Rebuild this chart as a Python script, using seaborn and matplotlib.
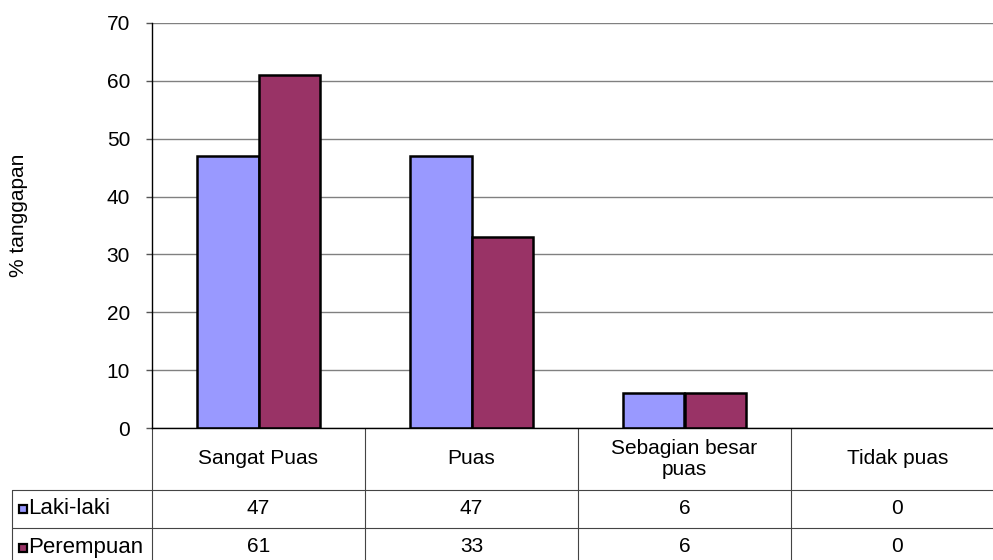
import numpy as np
import pandas as pd
import matplotlib
matplotlib.use("Agg")
import matplotlib.pyplot as plt
import seaborn as sns
from matplotlib.patches import Rectangle

categories = ["Sangat Puas", "Puas", "Sebagian besar\npuas", "Tidak puas"]
series_names = ["Laki-laki", "Perempuan"]
laki_laki = [47, 47, 6, 0]
perempuan = [61, 33, 6, 0]
y_ticks = [0, 10, 20, 30, 40, 50, 60, 70]
colors = ["#9999FF", "#993366"]

df = pd.DataFrame({
    "kategori": categories * 2,
    "nilai": laki_laki + perempuan,
    "jenis": [series_names[0]] * 4 + [series_names[1]] * 4,
})

sns.set_style("white")
plt.rcParams["font.family"] = ["Liberation Sans", "DejaVu Sans"]
plt.rcParams["text.color"] = "black"
plt.rcParams["ytick.color"] = "black"
plt.rcParams["ytick.labelcolor"] = "black"

FS = 15
W, H = 993, 560
fig = plt.figure(figsize=(W / 100, H / 100), dpi=100)

# plot area in pixels
left, right, top, bottom = 152, 1004, 23, 428
ax = fig.add_axes([left / W, 1 - bottom / H, (right - left) / W, (bottom - top) / H])

sns.barplot(data=df, x="kategori", y="nilai", hue="jenis", palette=colors,
            saturation=1, edgecolor="black", linewidth=1.8, width=0.573, gap=0,
            legend=False, ax=ax, order=categories, hue_order=series_names)

# zero-height bars are not drawn
for p in ax.patches:
    if p.get_height() == 0:
        p.set_visible(False)

ax.set_xlim(-0.5, 3.5)
ax.set_ylim(0, 70)
ax.set_yticks(y_ticks)
ax.set_yticklabels([str(v) for v in y_ticks], fontsize=FS)
ax.tick_params(axis="y", length=4.3, width=1, color="#555555", pad=11.5, left=True, direction="out")
ax.set_xticks([])
ax.set_xlabel("")
ax.set_ylabel("")
ax.yaxis.grid(True, color="#808080", linewidth=1)
ax.set_axisbelow(True)
for s in ["top", "right"]:
    ax.spines[s].set_visible(False)
ax.spines["left"].set_color("black")
ax.spines["left"].set_linewidth(1)
ax.spines["bottom"].set_color("black")
ax.spines["bottom"].set_linewidth(1)

fig.text(19 / W, 1 - 215 / H, "% tanggapan", rotation=90, ha="center", va="center", fontsize=FS)

# data table under the plot
ph = bottom - top
row_cat = -62 / ph
row_l = -100 / ph
row_p = -138 / ph
trans = ax.get_xaxis_transform()
line_kw = dict(color="#444444", linewidth=0.8, clip_on=False, transform=trans)
x_left_px = 12
x_left = ax.transData.inverted().transform(
    ax.transAxes.transform((0, 0)) + np.array([x_left_px - left, 0]))[0]

# vertical separators between categories
for b in np.arange(-0.5, len(categories) + 0.5, 1.0):
    ax.plot([b, b], [0, row_p], **line_kw)
ax.plot([x_left, x_left], [row_cat, row_p], **line_kw)
for yy in [row_cat, row_l]:
    ax.plot([x_left, 3.5], [yy, yy], **line_kw)

for i, c in enumerate(categories):
    ax.text(i, row_cat / 2, c, ha="center", va="center", fontsize=FS,
            transform=trans, linespacing=1.1)
    ax.text(i, (row_cat + row_l) / 2, str(laki_laki[i]), ha="center", va="center",
            fontsize=FS, transform=trans)
    ax.text(i, (row_l + row_p) / 2, str(perempuan[i]), ha="center", va="center",
            fontsize=FS, transform=trans)

# row headers with legend keys
for name, col, yc in [(series_names[0], colors[0], 509), (series_names[1], colors[1], 548)]:
    fig.patches.append(Rectangle((19 / W, 1 - (yc + 4) / H), 8 / W, 8 / H,
                                 facecolor=col, edgecolor="black", linewidth=1.6,
                                 transform=fig.transFigure, figure=fig))
    fig.text(28 / W, 1 - yc / H, name, ha="left", va="center", fontsize=16)

fig.savefig("out.png", dpi=100)
